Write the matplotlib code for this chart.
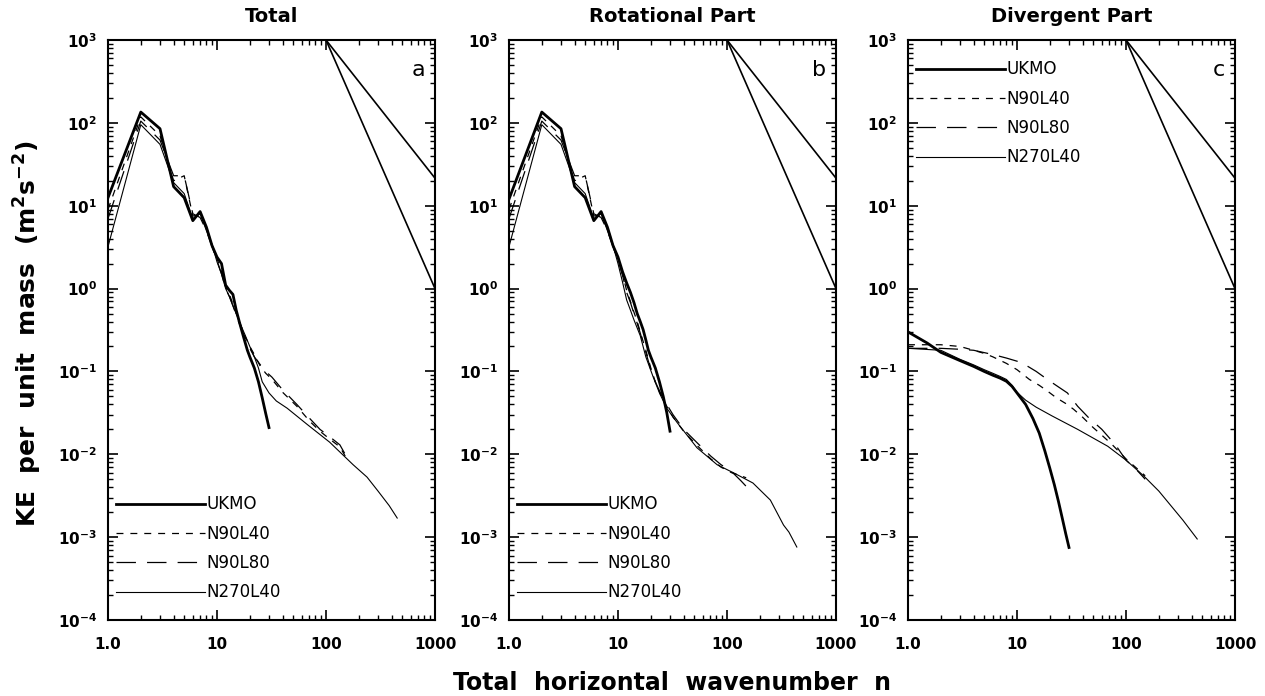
import matplotlib as mpl
mpl.use("Agg")
import matplotlib.pyplot as plt
import matplotlib.ticker as mticker
import numpy as np

# --- data (wavenumber n, KE per unit mass) ---

n_ukmo = [1, 2, 3, 4, 5, 6, 7, 8, 9, 10, 11, 12, 13, 14, 15, 16, 17, 18, 19, 20, 22, 24, 26, 28, 30]
ukmo_tot = [12.5, 135, 85, 17, 12.5, 6.6, 8.5, 5.5, 3.3, 2.4, 2.0, 1.1, 0.95, 0.85, 0.55, 0.4, 0.3, 0.23,
            0.18, 0.15, 0.11, 0.075, 0.048, 0.031, 0.021]
ukmo_rot = [12, 135, 85, 17, 12.5, 6.6, 8.5, 5.5, 3.3, 2.4, 1.6, 1.17, 0.9, 0.68, 0.5, 0.4, 0.32, 0.24,
            0.18, 0.15, 0.11, 0.075, 0.05, 0.032, 0.019]

n_n90 = [1, 2, 3, 4, 5, 6, 7, 8, 9, 10, 11, 12, 13, 14, 15, 16, 18, 20, 22, 25, 28, 32, 40, 54, 71, 88,
         110, 134, 150]
n90l40_tot = [9, 118, 70, 20, 23, 7.5, 7.8, 5.5, 3.4, 2.3, 1.6, 1.05, 0.85, 0.65, 0.5, 0.4, 0.27, 0.2,
              0.16, 0.115, 0.095, 0.08, 0.056, 0.038, 0.025, 0.019, 0.015, 0.0123, 0.0095]
n90l80_tot = [7, 105, 62, 23, 23, 8, 7.2, 5, 3.2, 2.2, 1.5, 1.0, 0.8, 0.62, 0.48, 0.38, 0.26, 0.19,
              0.15, 0.12, 0.1, 0.085, 0.06, 0.04, 0.027, 0.02, 0.016, 0.013, 0.01]
n90l40_rot = [9, 118, 70, 20, 23, 7.5, 7.8, 5.5, 3.4, 2.3, 1.5, 0.95, 0.7, 0.52, 0.4, 0.3, 0.18, 0.11,
              0.075, 0.05, 0.038, 0.028, 0.019, 0.0125, 0.0088, 0.007, 0.006, 0.0055, 0.0052]
n90l80_rot = [7, 105, 62, 23, 23, 8, 7.2, 5, 3.2, 2.2, 1.45, 0.9, 0.68, 0.5, 0.38, 0.29, 0.17, 0.105,
              0.075, 0.052, 0.04, 0.03, 0.02, 0.0135, 0.0095, 0.0075, 0.0062, 0.0048, 0.0041]

n_n270_tot = [1, 2, 3, 4, 5, 6, 7, 8, 9, 10, 11, 12, 13, 14, 15, 16, 18, 20, 22, 24, 26, 30, 35, 44, 67,
              108, 177, 238, 300, 380, 450]
n270l40_tot = [3.2, 95, 55, 19, 14, 7, 8, 5, 3.4, 2.1, 1.5, 1.0, 0.8, 0.62, 0.5, 0.4, 0.28, 0.2, 0.15,
               0.11, 0.075, 0.055, 0.044, 0.036, 0.023, 0.014, 0.0075, 0.0053, 0.0036, 0.0024, 0.0017]
n_n270_rot = [1, 2, 3, 4, 5, 6, 7, 8, 9, 10, 11, 12, 13, 14, 16, 18, 21, 24, 28, 35, 53, 81, 120, 173,
              250, 330, 370, 437]
n270l40_rot = [3.2, 95, 55, 19, 14, 7, 8, 5, 3.3, 2.0, 1.2, 0.73, 0.55, 0.42, 0.27, 0.15, 0.086, 0.055,
               0.036, 0.024, 0.012, 0.0075, 0.0058, 0.0045, 0.0028, 0.0014, 0.00115, 0.00076]

# divergent part
n_ukmo_div = [1, 1.5, 2, 3, 4, 5, 6, 7, 8, 9, 10, 12, 14, 16, 18, 20, 22, 24, 26, 28, 30]
ukmo_div = [0.30, 0.22, 0.17, 0.135, 0.115, 0.1, 0.09, 0.083, 0.076, 0.066, 0.055, 0.04, 0.027, 0.018,
            0.011, 0.0068, 0.0043, 0.0027, 0.0017, 0.0011, 0.00075]
n_n90l40_div = [1, 2, 3, 4, 5, 6, 8, 10, 13, 16, 19, 23, 28, 33, 40, 50, 60, 75, 100, 125, 150]
n90l40_div = [0.21, 0.21, 0.2, 0.18, 0.165, 0.15, 0.125, 0.105, 0.08, 0.068, 0.058, 0.048, 0.041, 0.035,
              0.028, 0.021, 0.017, 0.013, 0.0088, 0.0068, 0.0055]
n_n90l80_div = [1, 2, 3, 4, 6, 8, 11, 15, 19, 24, 29, 36, 45, 60, 80, 100, 125, 150]
n90l80_div = [0.19, 0.19, 0.185, 0.18, 0.16, 0.145, 0.128, 0.1, 0.08, 0.065, 0.055, 0.038, 0.028, 0.02,
              0.013, 0.0085, 0.0065, 0.005]
n_n270_div = [1, 2, 3, 4, 5, 6, 7, 8, 9, 10, 12, 15, 21, 36, 68, 100, 145, 200, 333, 450]
n270l40_div = [0.19, 0.18, 0.14, 0.12, 0.105, 0.095, 0.087, 0.08, 0.068, 0.056, 0.045, 0.037, 0.029,
               0.02, 0.0125, 0.0085, 0.0055, 0.0036, 0.0016, 0.00095]

# reference slopes (-5/3 and -3) drawn from n=100 to n=1000
n_ref = [100, 1000]
ref_53 = [1000, 21.5]
ref_3 = [1000, 1.0]

titles = ["Total", "Rotational Part", "Divergent Part"]
letters = ["a", "b", "c"]
labels = ["UKMO", "N90L40", "N90L80", "N270L40"]
x_ticks = [1, 10, 100, 1000]
x_ticklabels = ["1.0", "10", "100", "1000"]
y_ticks = [1e-4, 1e-3, 1e-2, 1e-1, 1e0, 1e1, 1e2, 1e3]

# ---------------------------------------------------------------------------

plt.rcParams['font.family'] = ['DejaVu Sans']
plt.rcParams['font.weight'] = 'bold'
plt.rcParams['mathtext.default'] = 'bf'
plt.rcParams['lines.scale_dashes'] = False

fig = plt.figure(figsize=(12.65, 6.96), dpi=100)

lefts = [108 / 1265, 509 / 1265, 908 / 1265]
width = 327 / 1265
bottom = 1 - 620 / 696
height = 580 / 696

panels = [
    (n_ukmo, ukmo_tot, n_n90, n90l40_tot, n_n90, n90l80_tot, n_n270_tot, n270l40_tot),
    (n_ukmo, ukmo_rot, n_n90, n90l40_rot, n_n90, n90l80_rot, n_n270_rot, n270l40_rot),
    (n_ukmo_div, ukmo_div, n_n90l40_div, n90l40_div, n_n90l80_div, n90l80_div, n_n270_div, n270l40_div),
]

for i, p in enumerate(panels):
    ax = fig.add_axes([lefts[i], bottom, width, height])
    h1, = ax.plot(p[0], p[1], color='black', lw=2.0, label=labels[0])
    h2, = ax.plot(p[2], p[3], color='black', lw=0.9, dashes=(5, 5), label=labels[1])
    h3, = ax.plot(p[4], p[5], color='black', lw=0.9, dashes=(14, 8), label=labels[2])
    h4, = ax.plot(p[6], p[7], color='black', lw=0.8, label=labels[3])
    ax.plot(n_ref, ref_53, color='black', lw=1.2)
    ax.plot(n_ref, ref_3, color='black', lw=1.2)

    ax.set_xscale('log')
    ax.set_yscale('log')
    ax.set_xlim(1, 1000)
    ax.set_ylim(1e-4, 1e3)

    ax.xaxis.set_major_locator(mticker.FixedLocator(x_ticks))
    ax.xaxis.set_major_formatter(mticker.FixedFormatter(x_ticklabels))
    ax.xaxis.set_minor_locator(mticker.LogLocator(base=10, subs=np.arange(2, 10)))
    ax.xaxis.set_minor_formatter(mticker.NullFormatter())
    ax.yaxis.set_major_locator(mticker.FixedLocator(y_ticks))
    ax.yaxis.set_major_formatter(mticker.LogFormatterSciNotation())
    ax.yaxis.set_minor_locator(mticker.LogLocator(base=10, subs=np.arange(2, 10), numticks=20))
    ax.yaxis.set_minor_formatter(mticker.NullFormatter())

    ax.tick_params(which='both', direction='in', top=True, right=True, labelsize=11)
    ax.tick_params(which='major', length=7, width=1.2)
    ax.tick_params(axis='x', which='major', pad=12)
    ax.tick_params(axis='y', which='major', pad=8)
    ax.tick_params(which='minor', length=3.5, width=1.0)
    for s in ax.spines.values():
        s.set_linewidth(1.5)

    ax.set_title(titles[i], fontsize=14, fontweight='bold', pad=13)
    ax.text(0.97, 0.948, letters[i], transform=ax.transAxes, fontsize=16,
            fontweight='normal', ha='right', va='center')

    if i < 2:
        leg = ax.legend(handles=[h1, h2, h3, h4], loc='lower left', bbox_to_anchor=(-0.01, 0.012),
                        frameon=False, fontsize=12, handlelength=5.3, handletextpad=0.1,
                        labelspacing=0.68, borderaxespad=0.3)
    else:
        leg = ax.legend(handles=[h1, h2, h3, h4], loc='upper left', bbox_to_anchor=(-0.01, 0.985),
                        frameon=False, fontsize=12, handlelength=5.3, handletextpad=0.1,
                        labelspacing=0.68, borderaxespad=0.3)
    for t in leg.get_texts():
        t.set_fontweight('normal')

fig.text(0.022, 0.52, "KE  per  unit  mass  (m$^2$s$^{-2}$)", rotation=90, ha='center', va='center',
         fontsize=18, fontweight='bold')
fig.text(0.531, 0.018, "Total  horizontal  wavenumber  n", ha='center', va='center',
         fontsize=17, fontweight='bold')

fig.savefig("out.png", dpi=100)
